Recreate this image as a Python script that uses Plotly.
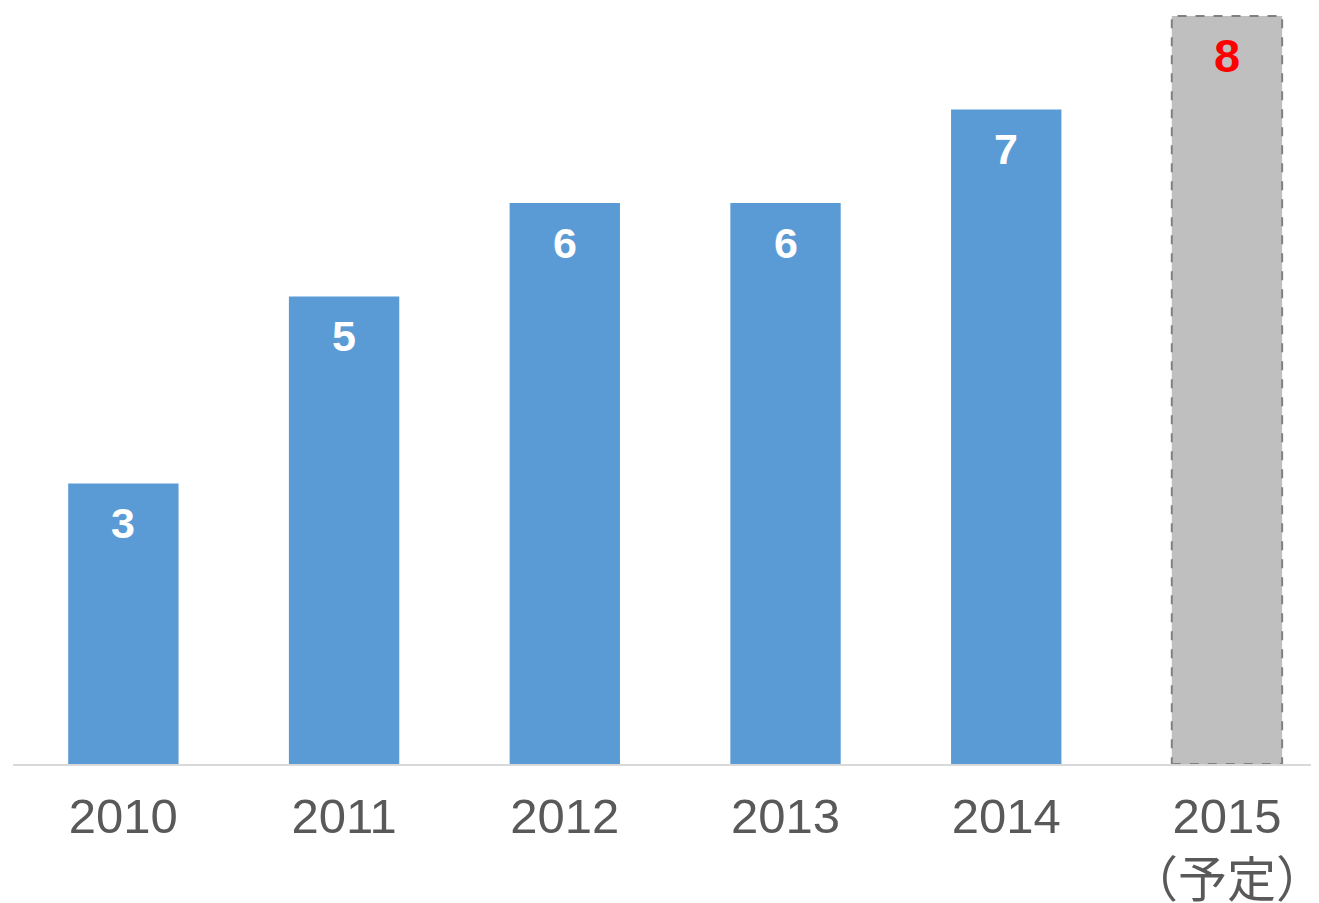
import plotly.graph_objects as go

# data
years = ['2010', '2011', '2012', '2013', '2014', '2015']
tick_text = ['2010', '2011', '2012', '2013', '2014', '2015<br>（予定）']
counts = [3, 5, 6, 6, 7, 8]
planned = [False, False, False, False, False, True]

bar_colors = ['#BFBFBF' if p else '#5B9BD5' for p in planned]
label_colors = ['#FF0000' if p else '#FFFFFF' for p in planned]
label_sizes = [47 if p else 43 for p in planned]
bar_width = 0.5

fig = go.Figure()
fig.add_trace(go.Bar(
    x=years,
    y=counts,
    width=bar_width,
    marker={'color': bar_colors, 'line': {'width': 0}},
    hoverinfo='x+y'))

# value labels inside the bars, near the top (numeric category index for x)
for i, (v, c, s) in enumerate(zip(counts, label_colors, label_sizes)):
    fig.add_annotation(
        x=i, y=v, xref='x', yref='y', text='<b>%d</b>' % v,
        showarrow=False, yanchor='middle', yshift=-40,
        font={'size': s, 'color': c, 'family': 'Liberation Sans, Arial, sans-serif'})

# dashed outline for the planned year
for i, (v, p) in enumerate(zip(counts, planned)):
    if p:
        fig.add_shape(
            type='rect', xref='x', yref='y',
            x0=i - bar_width / 2, x1=i + bar_width / 2, y0=0, y1=v,
            line={'color': '#808080', 'width': 2, 'dash': 'dash'},
            layer='above')

# page body has an 8px margin, so the figure is 8px smaller than the window
fig.update_layout(
    width=1311, height=895,
    margin={'l': 5, 'r': 0, 't': 2, 'b': 139, 'autoexpand': False},
    plot_bgcolor='white',
    paper_bgcolor='white',
    showlegend=False,
    font={'family': 'Liberation Sans, Noto Sans CJK JP, sans-serif', 'color': '#595959'},
    xaxis={
        'type': 'category',
        'range': [-0.5, 5.417],
        'tickvals': years,
        'ticktext': tick_text,
        'tickfont': {'size': 49, 'color': '#595959'},
        'ticklabelstandoff': 8,
        'automargin': False,
        'showline': True,
        'linecolor': '#D9D9D9',
        'linewidth': 2,
        'ticks': '',
        'showgrid': False,
        'fixedrange': True,
    },
    yaxis={
        'range': [0, 8.064],
        'visible': False,
        'showgrid': False,
        'zeroline': False,
        'automargin': False,
        'fixedrange': True,
    },
)

fig.write_html("out.html")
